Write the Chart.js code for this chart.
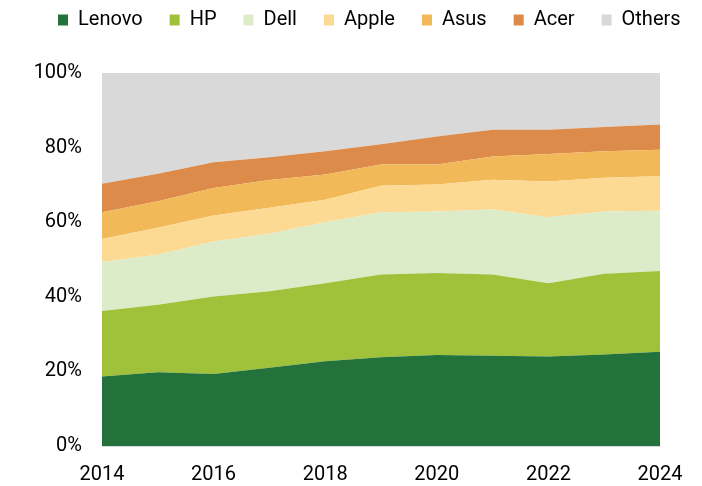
<!DOCTYPE html>
<html lang="en">
<head>
<meta charset="UTF-8">
<title>PC market share</title>
<script src="https://cdn.jsdelivr.net/npm/chart.js"></script>
<style>
  html, body { margin: 0; padding: 0; background: #fff; }
  #wrap { width: 702px; height: 486px; }
</style>
</head>
<body>
<div id="wrap"><canvas id="shareChart" width="702" height="486"></canvas></div>
<script>
  const years = ['2014', '2015', '2016', '2017', '2018', '2019', '2020', '2021', '2022', '2023', '2024'];

  // market share in %, stacked bottom to top
  const lenovo = [18.6, 19.8, 19.3, 21.0, 22.7, 23.8, 24.4, 24.2, 24.0, 24.5, 25.3];
  const hp     = [17.6, 18.1, 20.8, 20.5, 20.9, 22.2, 22.0, 21.8, 19.6, 21.7, 21.6];
  const dell   = [13.1, 13.4, 14.7, 15.4, 16.4, 16.7, 16.5, 17.4, 17.7, 16.7, 16.2];
  const apple  = [6.2, 7.2, 7.0, 7.0, 6.0, 7.1, 7.2, 8.0, 9.6, 9.0, 9.2];
  const asus   = [7.2, 7.1, 7.4, 7.4, 6.8, 5.7, 5.4, 6.2, 7.4, 7.1, 7.1];
  const acer   = [7.6, 7.4, 6.9, 6.1, 6.2, 5.4, 7.5, 7.2, 6.5, 6.5, 6.8];
  const others = [29.7, 27.0, 23.9, 22.6, 21.0, 19.1, 17.0, 15.2, 15.2, 14.5, 13.8];

  const yTicks = [0, 20, 40, 60, 80, 100];

  function area(label, data, color, first) {
    return {
      label: label,
      data: data,
      backgroundColor: color,
      borderColor: color,
      borderWidth: 0,
      pointRadius: 0,
      tension: 0,
      fill: first ? 'origin' : '-1'
    };
  }

  Chart.defaults.font.family = 'Roboto, "Noto Sans", sans-serif';
  Chart.defaults.font.size = 20;
  Chart.defaults.color = '#000';

  const ctx = document.getElementById('shareChart').getContext('2d');
  new Chart(ctx, {
    type: 'line',
    data: {
      labels: years,
      datasets: [
        area('Lenovo', lenovo, '#23723c', true),
        area('HP', hp, '#a0c13a'),
        area('Dell', dell, '#dcebc8'),
        area('Apple', apple, '#fdda94'),
        area('Asus', asus, '#f1b958'),
        area('Acer', acer, '#dd8b4a'),
        area('Others', others, '#d9d9d9')
      ]
    },
    options: {
      responsive: false,
      animation: false,
      // right padding is negative so the one-row legend has room; the hidden right axis keeps the plot edge
      layout: { padding: { left: 31, right: -30, top: -17, bottom: 0 } },
      plugins: {
        legend: {
          align: 'start',
          labels: {
            boxWidth: 10,
            boxHeight: 11,
            padding: 27,
            font: { size: 20 }
          }
        },
        tooltip: { enabled: false }
      },
      scales: {
        x: {
          offset: false,
          grid: { display: false, drawTicks: false },
          border: { display: true, color: '#d9d9d9', width: 1 },
          afterFit: function (axis) { axis.height = 40; },
          ticks: {
            autoSkip: false,
            maxRotation: 0,
            padding: 17,
            callback: function (v, i) { return i % 2 === 0 ? years[i] : ''; }
          }
        },
        xTop: {
          position: 'top',
          grid: { display: false, drawTicks: false },
          border: { display: false },
          ticks: { display: false },
          afterFit: function (axis) { axis.height = 33; }
        },
        y: {
          stacked: true,
          min: 0,
          max: 100,
          grid: { display: false, drawTicks: false },
          border: { display: false },
          afterFit: function (axis) { axis.width = 71; },
          afterBuildTicks: function (axis) { axis.ticks = yTicks.map(v => ({ value: v })); },
          ticks: {
            padding: 20,
            callback: function (v) { return v + '%'; }
          }
        },
        yRight: {
          position: 'right',
          grid: { display: false, drawTicks: false },
          border: { display: false },
          ticks: { display: false },
          afterFit: function (axis) { axis.width = 72; }
        }
      }
    }
  });
</script>
</body>
</html>
